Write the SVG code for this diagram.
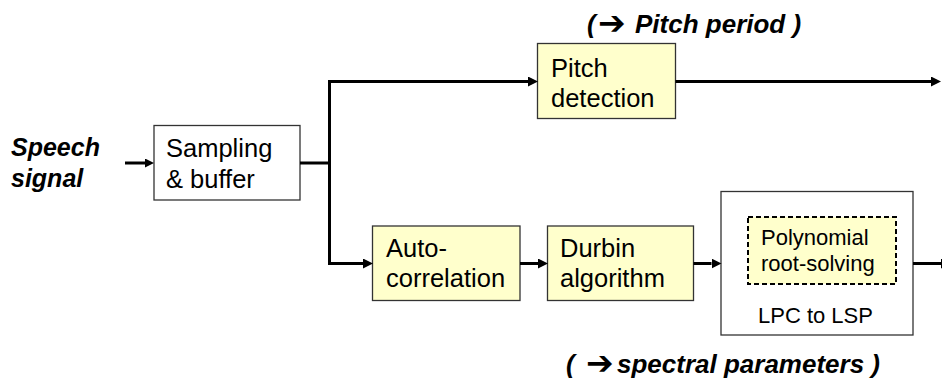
<svg xmlns="http://www.w3.org/2000/svg" width="942" height="385" viewBox="0 0 942 385">
  <defs>
    <marker id="arrow" markerUnits="userSpaceOnUse" markerWidth="10" markerHeight="10" refX="0" refY="5" orient="auto">
      <path d="M0,0 L10,5 L0,10 z" fill="#000"/>
    </marker>
    <marker id="arrow-sm" markerUnits="userSpaceOnUse" markerWidth="9" markerHeight="9" refX="0" refY="4.5" orient="auto">
      <path d="M0,0 L9,4.5 L0,9 z" fill="#000"/>
    </marker>
  </defs>
  <style>
    .box { fill: #ffffff; stroke: #333333; stroke-width: 1.3; }
    .hl { fill: #ffffcc; stroke: #333333; stroke-width: 1.3; }
    .dash { fill: #ffffcc; stroke: #000000; stroke-width: 2; stroke-dasharray: 5 3; }
    .lbl { font-family: "Liberation Sans", Arial, sans-serif; font-size: 25.5px; fill: #000; }
    .small { font-family: "Liberation Sans", Arial, sans-serif; font-size: 22px; fill: #000; }
    .note { font-family: "Liberation Sans", Arial, "DejaVu Sans", sans-serif; font-size: 26px; font-weight: bold; font-style: italic; fill: #000; }
    .speech { font-size: 25px; }
    .sym { font-family: "DejaVu Sans", sans-serif; font-size: 33px; font-weight: bold; font-style: normal; }
    .wire { fill: none; stroke: #000; stroke-width: 3; }
  </style>

  <!-- input label -->
  <g id="speech-signal">
    <text class="note speech" x="11" y="156">Speech</text>
    <text class="note speech" x="11" y="187">signal</text>
  </g>

  <g id="sampling">
    <rect class="box" x="154" y="125.5" width="146" height="74.5"/>
    <text class="lbl" x="166" y="157">Sampling</text>
    <text class="lbl" x="166" y="188">&amp; buffer</text>
  </g>

  <g id="pitch-detection">
    <rect class="hl" x="537.5" y="43.5" width="138" height="75"/>
    <text class="lbl" x="551" y="77">Pitch</text>
    <text class="lbl" x="551" y="107">detection</text>
  </g>

  <g id="autocorrelation">
    <rect class="hl" x="372.5" y="226" width="147.5" height="74.5"/>
    <text class="lbl" x="386" y="257">Auto-</text>
    <text class="lbl" x="386" y="287">correlation</text>
  </g>

  <g id="durbin">
    <rect class="hl" x="547.5" y="226" width="146" height="74.5"/>
    <text class="lbl" x="560" y="257">Durbin</text>
    <text class="lbl" x="560" y="287">algorithm</text>
  </g>

  <g id="lpc-to-lsp">
    <rect class="box" x="721" y="191.5" width="192" height="143.5"/>
    <rect class="dash" x="748" y="217" width="148" height="67"/>
    <text class="small" x="761" y="245">Polynomial</text>
    <text class="small" x="761" y="270.5">root-solving</text>
    <text class="small" x="758" y="323">LPC to LSP</text>
  </g>

  <!-- output annotations -->
  <g id="pitch-period">
    <text class="note" x="587" y="33">(<tspan class="sym" x="598" y="34">➔</tspan><tspan x="635" y="33">Pitch period )</tspan></text>
  </g>
  <g id="spectral-parameters">
    <text class="note" x="566" y="373">(<tspan class="sym" x="586" y="374">➔</tspan><tspan x="617" y="373">spectral parameters )</tspan></text>
  </g>

  <g id="connectors">
    <line class="wire" x1="125" y1="163" x2="145" y2="163" stroke-width="2.5" marker-end="url(#arrow-sm)"/>
    <polyline class="wire" points="300,163 329.5,163"/>
    <polyline class="wire" points="329.5,263.5 329.5,81.5 528,81.5" marker-end="url(#arrow)"/>
    <polyline class="wire" points="329.5,262 329.5,263.5 363,263.5" marker-end="url(#arrow)"/>
    <line class="wire" x1="675.5" y1="81.5" x2="931" y2="81.5" marker-end="url(#arrow)"/>
    <line class="wire" x1="520" y1="263.5" x2="538" y2="263.5" marker-end="url(#arrow)"/>
    <line class="wire" x1="693.5" y1="263.5" x2="711.5" y2="263.5" marker-end="url(#arrow)"/>
    <line class="wire" x1="913" y1="263.5" x2="941" y2="263.5" marker-end="url(#arrow)"/>
  </g>
</svg>
